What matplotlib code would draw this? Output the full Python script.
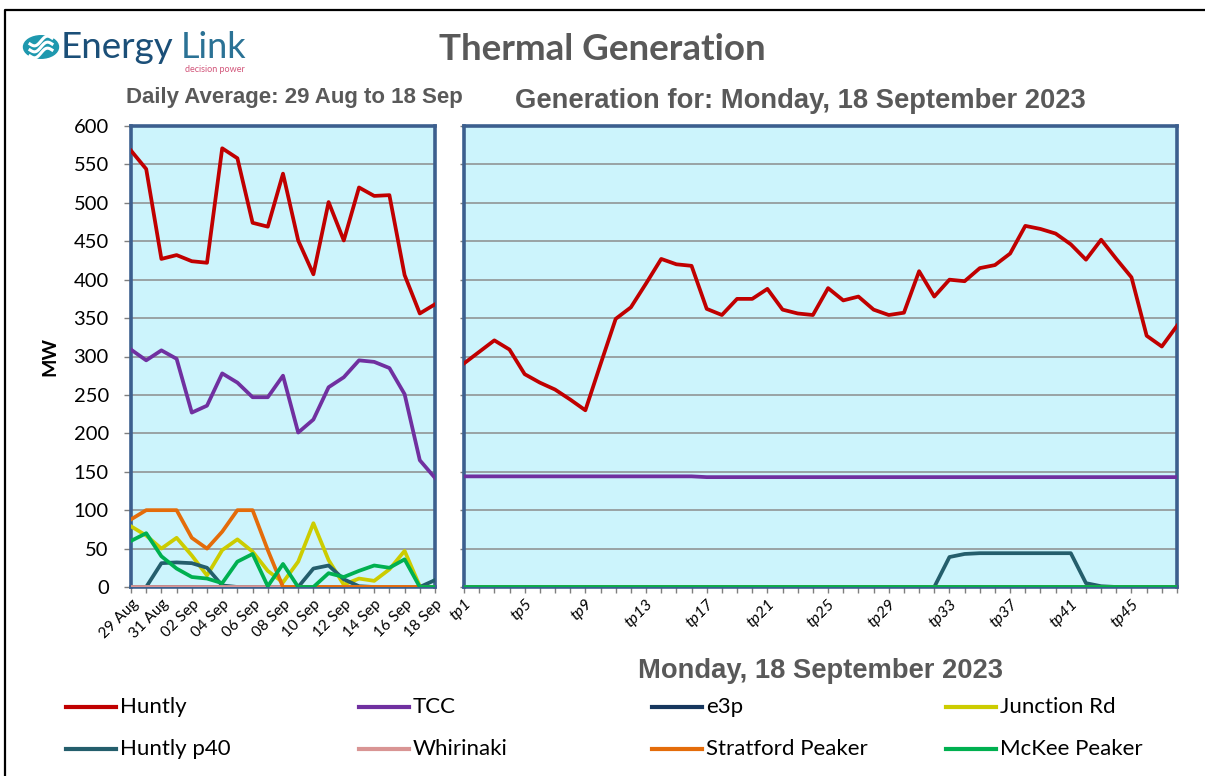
import matplotlib
matplotlib.use('Agg')
import matplotlib.pyplot as plt
from matplotlib.lines import Line2D
from matplotlib.patches import Circle
import numpy as np

W, H = 1205, 776

# ---------------- data ----------------
day_labels = ['29 Aug', '30 Aug', '31 Aug', '01 Sep', '02 Sep', '03 Sep', '04 Sep',
              '05 Sep', '06 Sep', '07 Sep', '08 Sep', '09 Sep', '10 Sep', '11 Sep',
              '12 Sep', '13 Sep', '14 Sep', '15 Sep', '16 Sep', '17 Sep', '18 Sep']
tp_labels = ['tp%d' % i for i in range(1, 49)]

series_names = ['Huntly', 'TCC', 'e3p', 'Junction Rd',
                'Huntly p40', 'Whirinaki', 'Stratford Peaker', 'McKee Peaker']
series_colors = ['#C00000', '#7030A0', '#17375E', '#CCCC00',
                 '#245E6C', '#D99594', '#E46C0A', '#00B050']

daily_huntly = [568, 544, 427, 432, 424, 422, 571, 558, 474, 469, 538, 451, 407, 501,
                451, 520, 509, 510, 406, 356, 368]
daily_tcc = [309, 295, 308, 297, 227, 236, 278, 266, 247, 247, 275, 201, 218, 260,
             273, 295, 293, 285, 251, 165, 142]
daily_e3p = [0, 0, 0, 0, 0, 0, 0, 0, 0, 0, 0, 0, 0, 0, 0, 0, 0, 0, 0, 0, 0]
daily_junction = [79, 67, 50, 64, 41, 15, 48, 62, 46, 21, 6, 33, 83, 35, 3, 11, 8, 23,
                  47, 1, 0]
daily_p40 = [0, 0, 31, 32, 31, 25, 2, 0, 0, 0, 0, 0, 24, 28, 10, 1, 0, 0, 0, 0, 9]
daily_whirinaki = [0, 0, 0, 0, 0, 0, 0, 0, 0, 0, 0, 0, 0, 0, 0, 0, 0, 0, 0, 0, 0]
daily_stratford = [88, 100, 100, 100, 64, 50, 72, 100, 100, 48, 0, 0, 0, 0, 0, 0, 0, 0,
                   0, 0, 0]
daily_mckee = [60, 70, 40, 24, 13, 11, 5, 33, 43, 1, 30, 0, 0, 18, 13, 21, 28, 25, 36,
               0, 0]

hh_huntly = [291, 306, 321, 309, 277, 266, 257, 244, 230, 290, 349, 364, 395, 427, 420,
             418, 362, 354, 375, 375, 388, 361, 356, 354, 389, 373, 378, 361, 354, 357,
             411, 378, 400, 398, 415, 419, 434, 470, 466, 460, 446, 426, 452, 427, 403,
             327, 313, 340]
hh_tcc = [144, 144, 144, 144, 144, 144, 144, 144, 144, 144, 144, 144, 144, 144, 144, 144,
          143, 143, 143, 143, 143, 143, 143, 143, 143, 143, 143, 143, 143, 143, 143, 143,
          143, 143, 143, 143, 143, 143, 143, 143, 143, 143, 143, 143, 143, 143, 143, 143]
hh_e3p = [0, 0, 0, 0, 0, 0, 0, 0, 0, 0, 0, 0, 0, 0, 0, 0, 0, 0, 0, 0, 0, 0, 0, 0,
          0, 0, 0, 0, 0, 0, 0, 0, 0, 0, 0, 0, 0, 0, 0, 0, 0, 0, 0, 0, 0, 0, 0, 0]
hh_junction = [0, 0, 0, 0, 0, 0, 0, 0, 0, 0, 0, 0, 0, 0, 0, 0, 0, 0, 0, 0, 0, 0, 0, 0,
               0, 0, 0, 0, 0, 0, 0, 0, 0, 0, 0, 0, 0, 0, 0, 0, 0, 0, 0, 0, 0, 0, 0, 0]
hh_p40 = [0, 0, 0, 0, 0, 0, 0, 0, 0, 0, 0, 0, 0, 0, 0, 0, 0, 0, 0, 0, 0, 0, 0, 0,
          0, 0, 0, 0, 0, 0, 0, 0, 39, 43, 44, 44, 44, 44, 44, 44, 44, 5, 1, 0, 0, 0, 0, 0]
hh_whirinaki = [0, 0, 0, 0, 0, 0, 0, 0, 0, 0, 0, 0, 0, 0, 0, 0, 0, 0, 0, 0, 0, 0, 0, 0,
                0, 0, 0, 0, 0, 0, 0, 0, 0, 0, 0, 0, 0, 0, 0, 0, 0, 0, 0, 0, 0, 0, 0, 0]
hh_stratford = [0, 0, 0, 0, 0, 0, 0, 0, 0, 0, 0, 0, 0, 0, 0, 0, 0, 0, 0, 0, 0, 0, 0, 0,
                0, 0, 0, 0, 0, 0, 0, 0, 0, 0, 0, 0, 0, 0, 0, 0, 0, 0, 0, 0, 0, 0, 0, 0]
hh_mckee = [0, 0, 0, 0, 0, 0, 0, 0, 0, 0, 0, 0, 0, 0, 0, 0, 0, 0, 0, 0, 0, 0, 0, 0,
            0, 0, 0, 0, 0, 0, 0, 0, 0, 0, 0, 0, 0, 0, 0, 0, 0, 0, 0, 0, 0, 0, 0, 0]

daily_series = [daily_huntly, daily_tcc, daily_e3p, daily_junction,
                daily_p40, daily_whirinaki, daily_stratford, daily_mckee]
hh_series = [hh_huntly, hh_tcc, hh_e3p, hh_junction,
             hh_p40, hh_whirinaki, hh_stratford, hh_mckee]

y_ticks = [0, 50, 100, 150, 200, 250, 300, 350, 400, 450, 500, 550, 600]

# ---------------- style ----------------
BG = '#CCF4FC'
FRAME = '#3C5F8E'
GRID = '#8C8C8C'
GREY_TXT = '#595959'
LW = 2.7
CAL = ['Lato', 'DejaVu Sans']
ARI = ['Liberation Sans', 'DejaVu Sans']


def fx(x):
    return x / W


def fy(y):
    return 1 - y / H


fig = plt.figure(figsize=(W / 100, H / 100), dpi=100)

# outer border (left + top)
fig.add_artist(Line2D([fx(5), fx(5), fx(1205)], [fy(776), fy(10), fy(10)],
                      color='black', lw=1.6, transform=fig.transFigure))


def style_axes(ax):
    ax.set_facecolor(BG)
    for s in ax.spines.values():
        s.set_color(FRAME)
        s.set_linewidth(2.6)
    ax.set_ylim(0, 600)
    ax.set_yticks(y_ticks)
    ax.yaxis.grid(True, color=GRID, lw=1.1)
    ax.set_axisbelow(True)
    ax.tick_params(axis='both', which='both', direction='out', color='#7F7F7F',
                   length=4, width=1)


# left panel
axL = fig.add_axes([fx(131), fy(587), (435 - 131) / W, (587 - 126) / H])
style_axes(axL)
xL = np.arange(len(day_labels))
for vals, col in zip(daily_series, series_colors):
    axL.plot(xL, vals, color=col, lw=LW, zorder=3)
axL.set_xlim(0, len(day_labels) - 1)
axL.set_xticks(xL)
axL.set_xticklabels([lab if i % 2 == 0 else '' for i, lab in enumerate(day_labels)],
                    rotation=45, ha='right', va='top', rotation_mode='anchor',
                    family=CAL, fontsize=11)
axL.set_yticklabels([str(v) for v in y_ticks], family=CAL, fontsize=14.5)
axL.tick_params(axis='y', pad=11, length=5)
axL.tick_params(axis='x', pad=3)

# right panel
axR = fig.add_axes([fx(464), fy(587), (1177 - 464) / W, (587 - 126) / H])
style_axes(axR)
xR = np.arange(len(tp_labels))
for vals, col in zip(hh_series, series_colors):
    axR.plot(xR, vals, color=col, lw=LW, zorder=3)
axR.set_xlim(0, len(tp_labels) - 1)
axR.set_xticks(xR)
axR.set_xticklabels([lab if i % 4 == 0 else '' for i, lab in enumerate(tp_labels)],
                    rotation=45, ha='right', va='top', rotation_mode='anchor',
                    family=CAL, fontsize=11.5, style='italic')
axR.tick_params(axis='y', labelleft=False, length=3)
axR.tick_params(axis='x', pad=3)

# y label
fig.text(fx(50), fy(357), 'MW', rotation=90, ha='center', va='center',
         fontsize=14, fontweight='bold', family=CAL, color='black')

# titles
fig.text(fx(602), fy(50), 'Thermal Generation', ha='center', va='center',
         fontsize=26.5, fontweight='bold', family=CAL, color=GREY_TXT)
fig.text(fx(294), fy(98), 'Daily Average: 29 Aug to 18 Sep', ha='center', va='center',
         fontsize=16, fontweight='bold', family=ARI, color=GREY_TXT)
fig.text(fx(800), fy(101), 'Generation for: Monday, 18 September 2023', ha='center',
         va='center', fontsize=19.7, fontweight='bold', family=ARI, color=GREY_TXT)
fig.text(fx(820), fy(671), 'Monday, 18 September 2023', ha='center', va='center',
         fontsize=19.7, fontweight='bold', family=ARI, color=GREY_TXT)

# logo
fig.add_artist(Circle((fx(41), fy(47)), 17.5 / W, color='#1E98AE',
                      transform=fig.transFigure))
t = np.linspace(-1, 1, 30)
for off in (-6, 0, 6):
    xs = 41 + 11 * t
    ys = 47 + off - 3.2 * np.sin(np.pi * t) - 3 * t
    fig.add_artist(Line2D(fx(xs), fy(ys), color='white', lw=2.2,
                          transform=fig.transFigure))
fig.text(fx(61), fy(47), 'Energy', ha='left', va='center', fontsize=26.5,
         color='#1B4F78', family=CAL)
fig.text(fx(181), fy(47), 'Link', ha='left', va='center', fontsize=26,
         color='#2B7295', family=CAL)
fig.text(fx(245), fy(70), 'decision power', ha='right', va='center', fontsize=6.5,
         color='#D2557A', family=CAL)

# legend (manual grid, row-major)
col_x = [66, 359, 652, 946]
row_y = [707, 749]
for i, (name, col) in enumerate(zip(series_names, series_colors)):
    cx = col_x[i % 4]
    ry = row_y[i // 4]
    fig.add_artist(Line2D([fx(cx), fx(cx + 50)], [fy(ry), fy(ry)], color=col, lw=3,
                          transform=fig.transFigure))
    fig.text(fx(cx + 54), fy(ry), name, ha='left', va='center', fontsize=16,
             family=CAL, color='black')

fig.savefig('out.png', dpi=100)
